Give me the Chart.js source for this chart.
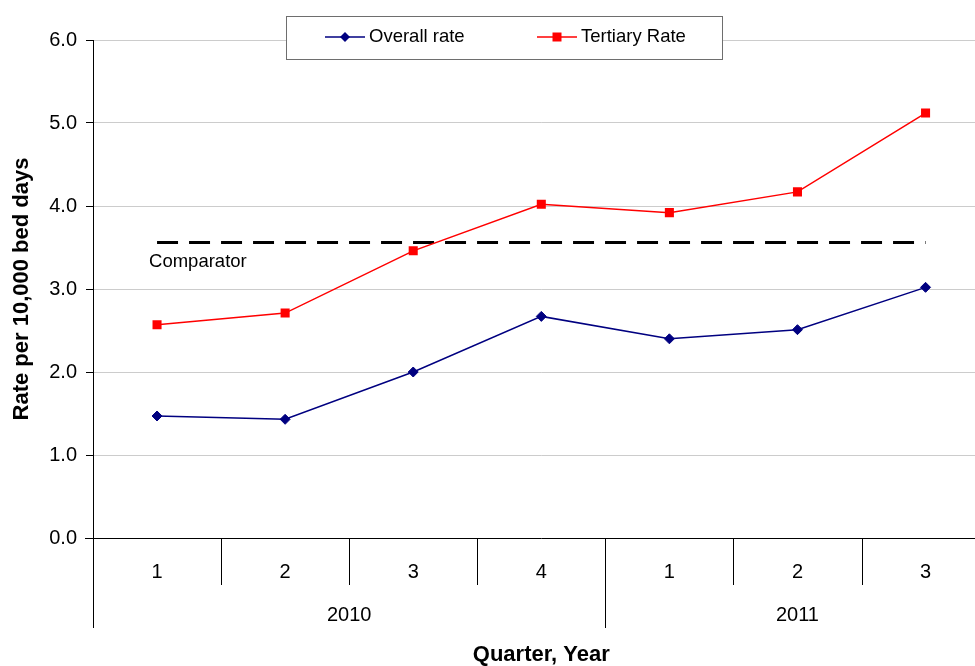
<!DOCTYPE html>
<html>
<head>
<meta charset="utf-8">
<script src="https://cdn.jsdelivr.net/npm/chart.js@4.4.1/dist/chart.umd.min.js"></script>
<style>
  html, body { margin: 0; padding: 0; background: #fff; overflow: hidden; }
  #wrap { width: 975px; height: 666px; position: relative; overflow: hidden; }
  /* plot runs slightly past the right edge of the frame */
  #inner { width: 996px; height: 666px; position: absolute; left: 0; top: 0; }
</style>
</head>
<body>
<div id="wrap"><div id="inner"><canvas id="rateChart"></canvas></div></div>
<script>
// Quarterly rates per 10,000 bed days
const quarters = ['1', '2', '3', '4', '1', '2', '3'];
const years = ['2010', '2010', '2010', '2010', '2011', '2011', '2011'];
const overallRate = [1.47, 1.43, 2.00, 2.67, 2.40, 2.51, 3.02];
const tertiaryRate = [2.57, 2.71, 3.46, 4.02, 3.92, 4.17, 5.12];
const comparatorValue = 3.56;
const yTicks = [0, 1, 2, 3, 4, 5, 6];

const FONT = "'Liberation Sans', Arial, sans-serif";
const NAVY = '#000080';
const RED = '#ff0000';

// Two-level category axis, comparator label and boxed legend
const overlayPlugin = {
  id: 'overlay',
  afterDraw(chart) {
    const { ctx, chartArea, scales: { x, y } } = chart;
    const half = (x.getPixelForValue(1) - x.getPixelForValue(0)) / 2;
    const base = chartArea.bottom;

    ctx.save();
    ctx.strokeStyle = '#000';
    ctx.lineWidth = 1;

    // axis line runs a bit past the y axis
    ctx.beginPath();
    ctx.moveTo(85, base + 0.5);
    ctx.lineTo(chartArea.left, base + 0.5);
    ctx.stroke();

    // separators between quarters, longer ones between years
    for (let i = 0; i < quarters.length; i++) {
      const bx = Math.round(x.getPixelForValue(i) - half) + 0.5;
      const yearStart = i === 0 || years[i] !== years[i - 1];
      ctx.beginPath();
      ctx.moveTo(bx, base);
      ctx.lineTo(bx, yearStart ? base + 90 : base + 47);
      ctx.stroke();
    }

    ctx.fillStyle = '#000';
    ctx.textAlign = 'center';
    ctx.textBaseline = 'middle';
    ctx.font = '20px ' + FONT;
    quarters.forEach((q, i) => {
      ctx.fillText(q, x.getPixelForValue(i), base + 34);
    });

    // year labels centred over their quarters
    let start = 0;
    for (let i = 1; i <= years.length; i++) {
      if (i === years.length || years[i] !== years[start]) {
        const cx = (x.getPixelForValue(start) + x.getPixelForValue(i - 1)) / 2;
        ctx.fillText(years[start], cx, base + 77);
        start = i;
      }
    }

    ctx.font = 'bold 22px ' + FONT;
    ctx.fillText('Quarter, Year', (chartArea.left + chartArea.right) / 2, base + 117);

    // comparator caption
    ctx.font = '18.5px ' + FONT;
    ctx.textAlign = 'left';
    ctx.fillText('Comparator', x.getPixelForValue(0) - 8, y.getPixelForValue(comparatorValue) + 19);

    // legend
    const lx = 286, ly = 16, lw = 436, lh = 43;
    ctx.fillStyle = '#fff';
    ctx.fillRect(lx, ly, lw, lh);
    ctx.strokeStyle = '#6e6e6e';
    ctx.strokeRect(lx + 0.5, ly + 0.5, lw, lh);

    const items = [
      { label: 'Overall rate', color: NAVY, x0: 325, shape: 'diamond' },
      { label: 'Tertiary Rate', color: RED, x0: 537, shape: 'square' }
    ];
    const my = 37;
    items.forEach(it => {
      ctx.strokeStyle = it.color;
      ctx.lineWidth = 1.5;
      ctx.beginPath();
      ctx.moveTo(it.x0, my);
      ctx.lineTo(it.x0 + 40, my);
      ctx.stroke();
      ctx.fillStyle = it.color;
      const mx = it.x0 + 20;
      ctx.beginPath();
      if (it.shape === 'diamond') {
        ctx.moveTo(mx - 5, my);
        ctx.lineTo(mx, my - 5);
        ctx.lineTo(mx + 5, my);
        ctx.lineTo(mx, my + 5);
        ctx.closePath();
      } else {
        ctx.rect(mx - 4.5, my - 4.5, 9, 9);
      }
      ctx.fill();
      ctx.fillStyle = '#000';
      ctx.font = '18.5px ' + FONT;
      ctx.textAlign = 'left';
      ctx.fillText(it.label, it.x0 + 44, my);
    });

    ctx.restore();
  }
};

new Chart(document.getElementById('rateChart'), {
  type: 'line',
  data: {
    labels: quarters.map((q, i) => q + ' ' + years[i]),
    datasets: [
      {
        label: 'Comparator',
        data: quarters.map(() => comparatorValue),
        borderColor: '#000',
        borderWidth: 3,
        borderDash: [21, 11],
        pointRadius: 0,
        order: 3
      },
      {
        label: 'Overall rate',
        data: overallRate,
        borderColor: NAVY,
        backgroundColor: NAVY,
        borderWidth: 1.5,
        pointStyle: 'rectRot',
        pointRadius: 5,
        pointBorderWidth: 1,
        order: 2
      },
      {
        label: 'Tertiary Rate',
        data: tertiaryRate,
        borderColor: RED,
        backgroundColor: RED,
        borderWidth: 1.5,
        pointStyle: 'rect',
        pointRadius: 6.4,
        pointBorderWidth: 0,
        order: 1
      }
    ]
  },
  options: {
    responsive: true,
    maintainAspectRatio: false,
    animation: false,
    layout: { padding: { top: 40, right: 0, bottom: 0, left: 0 } },
    plugins: {
      legend: { display: false },
      tooltip: { enabled: false }
    },
    scales: {
      x: {
        offset: true,
        ticks: { display: false },
        grid: { display: false },
        border: { color: '#000', width: 1 },
        afterFit: scale => { scale.height = 128; }
      },
      y: {
        min: 0,
        max: 6,
        afterBuildTicks: scale => { scale.ticks = yTicks.map(v => ({ value: v })); },
        ticks: {
          color: '#000',
          padding: 9,
          font: { family: FONT, size: 20 },
          callback: v => v.toFixed(1)
        },
        grid: {
          color: '#cccccc',
          tickColor: '#000',
          tickLength: 7,
          drawTicks: true
        },
        border: { color: '#000', width: 1 },
        title: {
          display: true,
          text: 'Rate per 10,000 bed days',
          color: '#000',
          font: { family: FONT, size: 22, weight: 'bold' },
          padding: { top: 9, bottom: 0 }
        },
        afterFit: scale => { scale.width = 93; }
      }
    }
  },
  plugins: [overlayPlugin]
});
</script>
</body>
</html>
